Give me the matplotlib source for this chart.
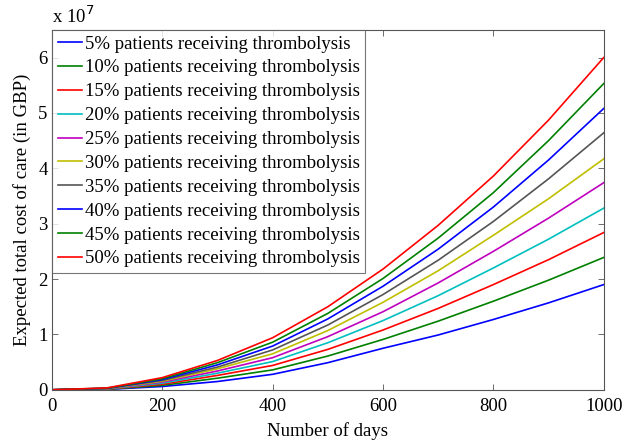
import matplotlib
matplotlib.use("Agg")
import matplotlib.pyplot as plt
import numpy as np

# days on the x axis
days = [0, 100, 200, 300, 400, 500, 600, 700, 800, 900, 1000]

# expected total cost of care, millions of GBP
cost_05 = [0, 0.08, 0.6, 1.5, 2.8, 4.9, 7.5, 9.9, 12.7, 15.7, 19.0]
cost_10 = [0, 0.11, 0.8, 2.1, 3.6, 6.1, 9.1, 12.4, 16.0, 19.8, 23.9]
cost_15 = [0, 0.14, 1.0, 2.6, 4.4, 7.3, 10.8, 14.7, 19.0, 23.5, 28.4]
cost_20 = [0, 0.17, 1.2, 3.0, 5.1, 8.5, 12.5, 17.0, 22.0, 27.2, 32.8]
cost_25 = [0, 0.20, 1.4, 3.4, 5.8, 9.6, 14.1, 19.3, 25.0, 31.0, 37.4]
cost_30 = [0, 0.22, 1.55, 3.8, 6.5, 10.7, 15.8, 21.5, 27.9, 34.5, 41.7]
cost_35 = [0, 0.25, 1.7, 4.1, 7.2, 11.7, 17.2, 23.4, 30.4, 38.1, 46.4]
cost_40 = [0, 0.28, 1.85, 4.5, 7.9, 12.8, 18.7, 25.4, 33.0, 41.5, 50.8]
cost_45 = [0, 0.30, 2.0, 4.9, 8.6, 13.8, 20.1, 27.4, 35.6, 45.0, 55.3]
cost_50 = [0, 0.35, 2.2, 5.3, 9.4, 15.0, 21.8, 29.7, 38.6, 48.7, 60.0]

series = [cost_05, cost_10, cost_15, cost_20, cost_25,
          cost_30, cost_35, cost_40, cost_45, cost_50]
percents = [5, 10, 15, 20, 25, 30, 35, 40, 45, 50]

# old matlab line colour order, plus a grey
colors = ['#0000ff', '#008000', '#ff0000', '#00bfbf', '#bf00bf',
          '#bfbf00', '#555555', '#0000ff', '#008000', '#ff0000']

plt.rcParams['font.family'] = 'Liberation Serif'
plt.rcParams['font.size'] = 13.5

fig = plt.figure(figsize=(6.25, 4.45), dpi=100)
ax = fig.add_axes([0.083, 0.124, 0.883, 0.809])

for vals, pct, c in zip(series, percents, colors):
    ax.plot(days, np.array(vals) * 1e6, color=c, lw=1.2,
            label=f'{pct}% patients receiving thrombolysis')

ax.set_xlim(0, 1000)
ax.set_ylim(0, 6.5e7)
ax.set_xticks([0, 200, 400, 600, 800, 1000])
ax.set_yticks(np.arange(0, 7) * 1e7)
ax.set_yticklabels([str(i) for i in range(7)])
ax.tick_params(direction='in', top=True, right=True, length=4,
               width=0.6, color='#555555')
ax.tick_params(axis='x', pad=6)
ax.tick_params(axis='y', pad=3)
for s in ax.spines.values():
    s.set_color('#555555')
    s.set_linewidth(0.8)

ax.text(0, 1.008, r'x 10$^{7}$', transform=ax.transAxes,
        ha='left', va='bottom', fontsize=13.5)

ax.set_xlabel('Number of days', labelpad=5)
ax.set_ylabel('Expected total cost of care (in GBP)', labelpad=5)

leg = ax.legend(loc='upper left', borderaxespad=0, handlelength=1.3,
                handletextpad=0.15, labelspacing=0.36, borderpad=0.3,
                fancybox=False, fontsize=13.5)
leg.get_frame().set_edgecolor('#555555')
leg.get_frame().set_linewidth(0.8)

plt.savefig('out.png', dpi=100)
